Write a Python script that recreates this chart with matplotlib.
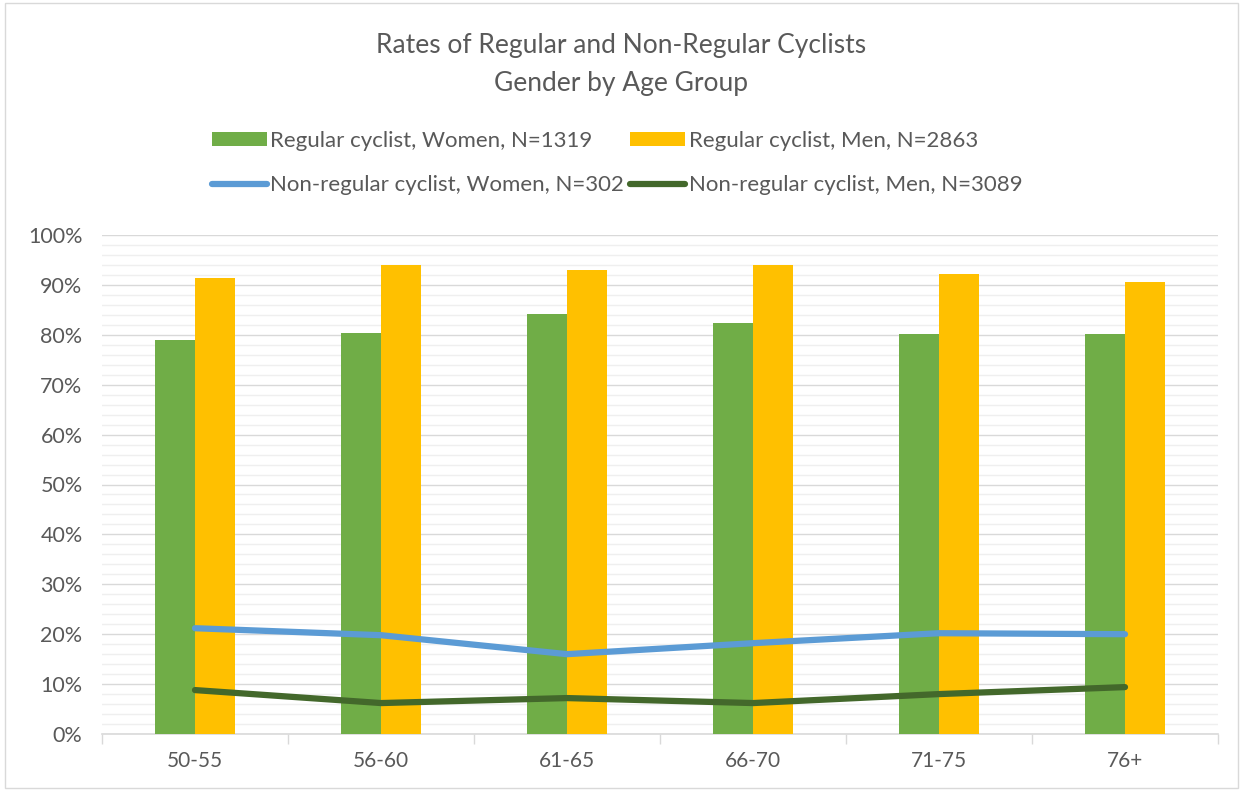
import matplotlib
matplotlib.use("Agg")
import matplotlib.pyplot as plt
from matplotlib.ticker import MultipleLocator, FuncFormatter
import numpy as np

plt.rcParams['font.family'] = ['Lato', 'DejaVu Sans']

categories = ["50-55", "56-60", "61-65", "66-70", "71-75", "76+"]
reg_women = [79.0, 80.4, 84.2, 82.4, 80.2, 80.2]
reg_men = [91.4, 94.0, 93.0, 94.0, 92.2, 90.6]
nonreg_women = [21.2, 19.8, 16.0, 18.2, 20.2, 20.0]
nonreg_men = [8.8, 6.2, 7.2, 6.2, 8.0, 9.4]

labels = ["Regular cyclist, Women, N=1319", "Regular cyclist, Men, N=2863",
          "Non-regular cyclist, Women, N=302", "Non-regular cyclist, Men, N=3089"]

c_green = "#70AD47"
c_yellow = "#FFC000"
c_blue = "#5B9BD5"
c_dgreen = "#43682B"
txt = "#595959"

fig = plt.figure(figsize=(12.43, 7.91), dpi=100)
ax = fig.add_axes([102/1243, 1-734/791, (1218-102)/1243, (734-235)/791])

x = np.arange(len(categories))
w = 0.215
b1 = ax.bar(x - w/2, reg_women, w, color=c_green, label=labels[0], zorder=3)
b2 = ax.bar(x + w/2, reg_men, w, color=c_yellow, label=labels[1], zorder=3)
l1, = ax.plot(x, nonreg_women, color=c_blue, lw=4.5, label=labels[2], zorder=4, solid_capstyle='round')
l2, = ax.plot(x, nonreg_men, color=c_dgreen, lw=4.5, label=labels[3], zorder=4, solid_capstyle='round')

ax.set_xlim(-0.5, len(categories) - 0.5)
ax.set_ylim(0, 100)
ax.yaxis.set_major_locator(MultipleLocator(10))
ax.yaxis.set_minor_locator(MultipleLocator(2))
ax.yaxis.set_major_formatter(FuncFormatter(lambda v, p: f"{int(round(v))}%"))
ax.grid(axis='y', which='major', color='#D9D9D9', lw=1.0, zorder=0)
ax.grid(axis='y', which='minor', color='#EFEFEF', lw=1.0, zorder=0)
ax.set_xticks(x)
ax.set_xticklabels(categories)
ax.set_xticks(np.arange(len(categories) + 1) - 0.5, minor=True)
ax.tick_params(axis='x', which='major', length=0, pad=12, labelsize=15, labelcolor=txt)
ax.tick_params(axis='x', which='minor', length=7, color='#D9D9D9', width=1)
ax.tick_params(axis='y', which='both', length=0, pad=14, labelsize=15.5, labelcolor=txt)
for s in ['top', 'right', 'left']:
    ax.spines[s].set_visible(False)
ax.spines['bottom'].set_color('#D9D9D9')
ax.spines['bottom'].set_linewidth(1.2)

fig.text(0.5, 1-46/791, "Rates of Regular and Non-Regular Cyclists", ha='center', va='center',
         fontsize=19, color=txt)
fig.text(0.5, 1-83/791, "Gender by Age Group", ha='center', va='center', fontsize=19, color=txt)

leg = fig.legend([b1, l1, b2, l2], [labels[0], labels[2], labels[1], labels[3]],
                 ncol=2, loc='center', bbox_to_anchor=(617/1243, 1-163/791),
                 frameon=False, fontsize=16, labelcolor=txt, handlelength=2.5,
                 handleheight=0.6, handletextpad=0.15, columnspacing=0.25,
                 labelspacing=1.1)

border = plt.Rectangle((0.004, 0.004), 0.992, 0.992, transform=fig.transFigure,
                       fill=False, edgecolor='#D9D9D9', lw=1)
fig.add_artist(border)

fig.savefig("out.png", dpi=100)
